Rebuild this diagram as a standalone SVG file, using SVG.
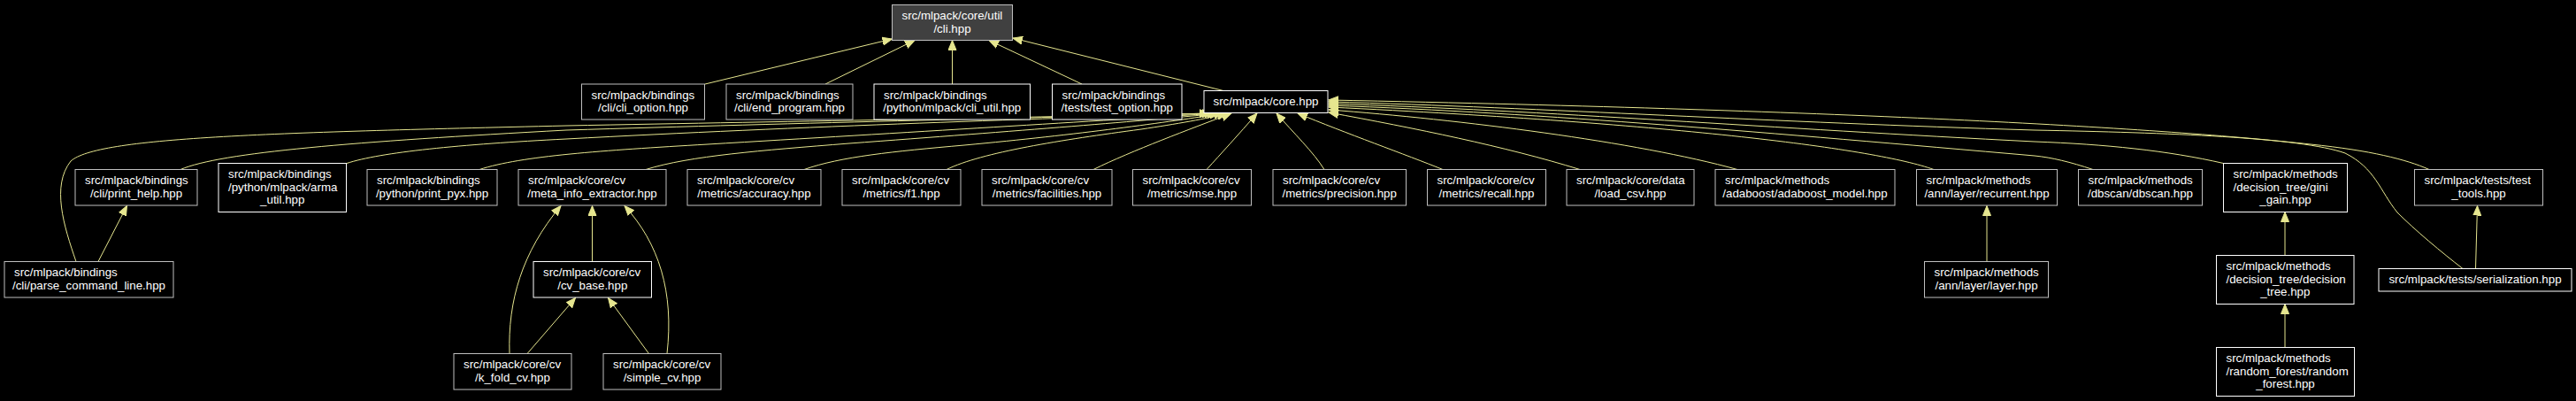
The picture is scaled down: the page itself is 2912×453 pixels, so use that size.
<svg xmlns="http://www.w3.org/2000/svg" width="2912" height="453" viewBox="0 0 2912 453">
<style>
.n rect{fill:#000;stroke:#bfbfbf;stroke-width:1}
.n.w rect{stroke:#ffffff}
#cli rect{fill:#404040;stroke:#bfbfbf}
.n text{font-family:"Liberation Sans",Arial,sans-serif;font-size:13.3px;fill:#ffffff}
.n text.c{text-anchor:middle}
#edges path{fill:none;stroke:#e6e68f;stroke-width:1;marker-end:url(#a)}
</style>
<defs>
<marker id="a" markerUnits="userSpaceOnUse" markerWidth="12" markerHeight="10" viewBox="0 0 12 10" refX="11" refY="5" orient="auto">
<path d="M0,0.5 L11,5 L0,9.5 z" fill="#e6e68f" stroke="#e6e68f" stroke-width="1"/>
</marker>
</defs>
<rect x="0" y="0" width="2912" height="453" fill="#000"/>
<g id="edges">
<path d="M797,95 L1008.5,44"/>
<path d="M933,95 L1034,45.5"/>
<path d="M1076.5,95 L1076.5,45.5"/>
<path d="M1223,95 L1118,45.5"/>
<path d="M1383,102.5 L1145,43"/>
<path d="M86,295.5 C72,255 58,210 80,182 C110,155 300,150 640,142 C900,137 1200,132 1367,128"/>
<path d="M204,191.5 C250,172 400,160 640,147 C900,139 1200,132 1370,128"/>
<path d="M392,184.5 C430,172 520,163 640,157 C900,143 1200,133 1373,128"/>
<path d="M542,191.5 C590,176 680,170 800,163 C1020,150 1250,136 1376,128"/>
<path d="M730,191.5 C780,176 860,170 960,162 C1150,148 1300,136 1379,128"/>
<path d="M909,191.5 C950,177 1010,171 1090,164 C1220,152 1320,138 1383,128"/>
<path d="M1070,191.5 C1110,172 1200,158 1290,146 C1330,140 1365,134 1387,128"/>
<path d="M1236,191.5 C1280,170 1345,146 1392,128"/>
<path d="M1364,191.5 C1380,174 1400,152 1421,128"/>
<path d="M1497,191.5 C1485,172 1462,150 1443,128"/>
<path d="M1631,191.5 C1590,175 1520,150 1467,128"/>
<path d="M1786,191.5 C1700,165 1600,145 1502,127"/>
<path d="M1964,191.5 C1850,160 1650,135 1502,124"/>
<path d="M2186,191.5 C2120,168 1900,140 1502,121"/>
<path d="M2366,191.5 C2340,183 2320,178 2300,176 C2000,150 1750,128 1502,119"/>
<path d="M2513.5,184.5 C2450,170 2380,163 2300,160 C2000,145 1750,125 1502,117"/>
<path d="M2746,191.5 C2720,180 2680,170 2612,163 C2450,145 2100,125 1502,113"/>
<path d="M2784,303.5 C2760,285 2730,260 2710,240 C2690,215 2685,190 2651,173 C2600,155 2450,150 2300,147 C2000,138 1750,122 1502,115"/>
<path d="M111,295.5 L143.5,232.5"/>
<path d="M669.5,295.5 L669.5,232.5"/>
<path d="M576,399.5 C574,340 590,285 634,232.5"/>
<path d="M754,399.5 C762,330 745,275 706,232.5"/>
<path d="M596,399.5 L650.5,336.5"/>
<path d="M733.5,399.5 L687.5,336.5"/>
<path d="M2246,295.5 L2246,232.5"/>
<path d="M2583,288.5 L2583,239.5"/>
<path d="M2583,392.5 L2583,343.5"/>
<path d="M2798.5,303.5 L2800.5,232.5"/>
</g>
<g id="cli" class="n"><rect x="1008.5" y="5.5" width="136" height="40"/><text x="1019.5" y="22">src/mlpack/core/util</text><text class="c" x="1076.5" y="36.5">/cli.hpp</text></g>
<g id="cli_option" class="n"><rect x="657.5" y="95" width="139" height="40"/><text x="668.5" y="111.5">src/mlpack/bindings</text><text class="c" x="727" y="126">/cli/cli_option.hpp</text></g>
<g id="end_program" class="n"><rect x="821" y="95" width="143" height="40"/><text x="832" y="111.5">src/mlpack/bindings</text><text class="c" x="892.5" y="126">/cli/end_program.hpp</text></g>
<g id="cli_util" class="n w"><rect x="988" y="95" width="176.5" height="40"/><text x="999" y="111.5">src/mlpack/bindings</text><text class="c" x="1076.25" y="126">/python/mlpack/cli_util.hpp</text></g>
<g id="test_option" class="n w"><rect x="1189.5" y="95" width="146.5" height="40"/><text x="1200.5" y="111.5">src/mlpack/bindings</text><text class="c" x="1262.75" y="126">/tests/test_option.hpp</text></g>
<g id="core" class="n w"><rect x="1361" y="102.5" width="140" height="25"/><text class="c" x="1431" y="119">src/mlpack/core.hpp</text></g>
<g id="print_help" class="n"><rect x="85" y="191.5" width="138" height="40.5"/><text x="96" y="208.3">src/mlpack/bindings</text><text class="c" x="154" y="222.8">/cli/print_help.hpp</text></g>
<g id="arma_util" class="n w"><rect x="247" y="184.5" width="144.5" height="55"/><text x="258" y="201.3">src/mlpack/bindings</text><text x="258" y="215.8">/python/mlpack/arma</text><text class="c" x="319.25" y="230.3">_util.hpp</text></g>
<g id="print_pyx" class="n"><rect x="415" y="191.5" width="147" height="40.5"/><text x="426" y="208.3">src/mlpack/bindings</text><text class="c" x="488.5" y="222.8">/python/print_pyx.hpp</text></g>
<g id="meta_info" class="n"><rect x="586" y="191.5" width="167" height="40.5"/><text x="597" y="208.3">src/mlpack/core/cv</text><text class="c" x="669.5" y="222.8">/meta_info_extractor.hpp</text></g>
<g id="accuracy" class="n"><rect x="777" y="191.5" width="151" height="40.5"/><text x="788" y="208.3">src/mlpack/core/cv</text><text class="c" x="852.5" y="222.8">/metrics/accuracy.hpp</text></g>
<g id="f1" class="n"><rect x="952" y="191.5" width="134" height="40.5"/><text x="963" y="208.3">src/mlpack/core/cv</text><text class="c" x="1019" y="222.8">/metrics/f1.hpp</text></g>
<g id="facilities" class="n"><rect x="1110" y="191.5" width="147" height="40.5"/><text x="1121" y="208.3">src/mlpack/core/cv</text><text class="c" x="1183.5" y="222.8">/metrics/facilities.hpp</text></g>
<g id="mse" class="n"><rect x="1280.5" y="191.5" width="134" height="40.5"/><text x="1291.5" y="208.3">src/mlpack/core/cv</text><text class="c" x="1347.5" y="222.8">/metrics/mse.hpp</text></g>
<g id="precision" class="n"><rect x="1439" y="191.5" width="150.5" height="40.5"/><text x="1450" y="208.3">src/mlpack/core/cv</text><text class="c" x="1514.25" y="222.8">/metrics/precision.hpp</text></g>
<g id="recall" class="n"><rect x="1613.5" y="191.5" width="134" height="40.5"/><text x="1624.5" y="208.3">src/mlpack/core/cv</text><text class="c" x="1680.5" y="222.8">/metrics/recall.hpp</text></g>
<g id="load_csv" class="n"><rect x="1771" y="191.5" width="144" height="40.5"/><text x="1782" y="208.3">src/mlpack/core/data</text><text class="c" x="1843" y="222.8">/load_csv.hpp</text></g>
<g id="adaboost" class="n"><rect x="1939" y="191.5" width="203" height="40.5"/><text x="1950" y="208.3">src/mlpack/methods</text><text class="c" x="2040.5" y="222.8">/adaboost/adaboost_model.hpp</text></g>
<g id="recurrent" class="n"><rect x="2166.5" y="191.5" width="159" height="40.5"/><text x="2177.5" y="208.3">src/mlpack/methods</text><text class="c" x="2246" y="222.8">/ann/layer/recurrent.hpp</text></g>
<g id="dbscan" class="n"><rect x="2349.5" y="191.5" width="140" height="40.5"/><text x="2360.5" y="208.3">src/mlpack/methods</text><text class="c" x="2419.5" y="222.8">/dbscan/dbscan.hpp</text></g>
<g id="gini_gain" class="n w"><rect x="2513.5" y="184.5" width="140" height="55"/><text x="2524.5" y="201.3">src/mlpack/methods</text><text x="2524.5" y="215.8">/decision_tree/gini</text><text class="c" x="2583.5" y="230.3">_gain.hpp</text></g>
<g id="test_tools" class="n"><rect x="2729.5" y="191.5" width="145" height="40.5"/><text x="2740.5" y="208.3">src/mlpack/tests/test</text><text class="c" x="2802" y="222.8">_tools.hpp</text></g>
<g id="parse_command_line" class="n"><rect x="5" y="295.5" width="191" height="40.5"/><text x="16" y="312.3">src/mlpack/bindings</text><text class="c" x="100.5" y="326.8">/cli/parse_command_line.hpp</text></g>
<g id="cv_base" class="n w"><rect x="603" y="295.5" width="133.5" height="40.5"/><text x="614" y="312.3">src/mlpack/core/cv</text><text class="c" x="669.75" y="326.8">/cv_base.hpp</text></g>
<g id="layer" class="n"><rect x="2175.5" y="295.5" width="140" height="40.5"/><text x="2186.5" y="312.3">src/mlpack/methods</text><text class="c" x="2245.5" y="326.8">/ann/layer/layer.hpp</text></g>
<g id="decision_tree" class="n w"><rect x="2505.5" y="288.5" width="155.5" height="55"/><text x="2516.5" y="305.3">src/mlpack/methods</text><text x="2516.5" y="319.8">/decision_tree/decision</text><text class="c" x="2583.25" y="334.3">_tree.hpp</text></g>
<g id="serialization" class="n w"><rect x="2689" y="303.5" width="218" height="25.5"/><text class="c" x="2798" y="320">src/mlpack/tests/serialization.hpp</text></g>
<g id="k_fold_cv" class="n"><rect x="513" y="399.5" width="133" height="40.5"/><text x="524" y="416.3">src/mlpack/core/cv</text><text class="c" x="579.5" y="430.8">/k_fold_cv.hpp</text></g>
<g id="simple_cv" class="n"><rect x="682" y="399.5" width="133" height="40.5"/><text x="693" y="416.3">src/mlpack/core/cv</text><text class="c" x="748.5" y="430.8">/simple_cv.hpp</text></g>
<g id="random_forest" class="n w"><rect x="2505.5" y="392.5" width="156" height="55"/><text x="2516.5" y="409.3">src/mlpack/methods</text><text x="2516.5" y="423.8">/random_forest/random</text><text class="c" x="2583.5" y="438.3">_forest.hpp</text></g>
</svg>
